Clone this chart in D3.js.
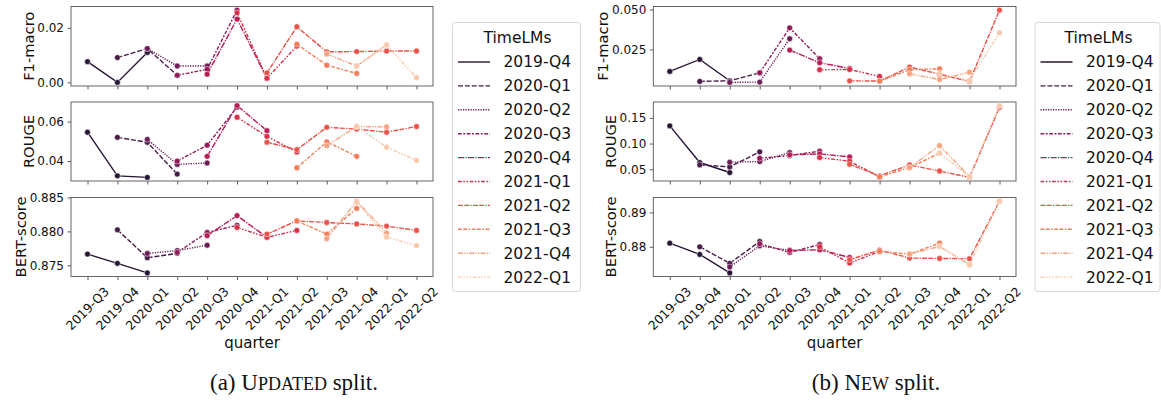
<!DOCTYPE html>
<html><head><meta charset="utf-8">
<script src="https://cdn.jsdelivr.net/npm/d3@7"></script>
<style>
body{margin:0;background:#fff;}
svg{display:block;font-family:"DejaVu Sans",sans-serif;}
</style></head>
<body><svg id="c" width="1161" height="401"></svg>
<script>
const quarters = ["2019-Q3","2019-Q4","2020-Q1","2020-Q2","2020-Q3","2020-Q4","2021-Q1","2021-Q2","2021-Q3","2021-Q4","2022-Q1","2022-Q2"];
const models = ["2019-Q4","2020-Q1","2020-Q2","2020-Q3","2020-Q4","2021-Q1","2021-Q2","2021-Q3","2021-Q4","2022-Q1"];
const colors = ["#271535","#461b46","#6b1e55","#911b58","#b61c55","#d82e46","#e95149","#f37c57","#f5a37f","#f7c8ab"];
const dashes = [[],[4,1.5],[1,1],[3,1.25,1.5,1.25],[5,1,1,1],[3,1.25,1.25,1.25,1.25,1.25],[4,1,4,1,1,1],[3,1.25,3,1.25,1.25,1.25],[4,1,1,1,1,1],[3,1.25,1.25,1.25,1.25,1.25,1.25,1.25]];
const metrics = ["F1-macro","ROUGE","BERT-score"];
const _ = null;

// UPDATED split (a)
const updatedF1 = [
 [0.0076,0.0,0.011,_,_,_,_,_,_,_,_,_],
 [_,0.0091,0.0124,0.0026,_,_,_,_,_,_,_,_],
 [_,_,0.0124,0.006,0.006,_,_,_,_,_,_,_],
 [_,_,_,0.0026,0.0048,0.0265,_,_,_,_,_,_],
 [_,_,_,_,0.003,0.0232,0.0015,_,_,_,_,_],
 [_,_,_,_,_,0.0255,0.0015,0.0133,_,_,_,_],
 [_,_,_,_,_,_,0.0035,0.0204,0.0112,0.0113,0.0115,0.0115],
 [_,_,_,_,_,_,_,0.014,0.0063,0.0033,_,_],
 [_,_,_,_,_,_,_,_,0.0104,0.006,0.0137,_],
 [_,_,_,_,_,_,_,_,_,0.006,0.0137,0.0017]];
const updatedROUGE = [
 [0.0546,0.0325,0.0317,_,_,_,_,_,_,_,_,_],
 [_,0.052,0.0495,0.0334,_,_,_,_,_,_,_,_],
 [_,_,0.051,0.0383,0.039,_,_,_,_,_,_,_],
 [_,_,_,0.040,0.048,0.0673,_,_,_,_,_,_],
 [_,_,_,_,0.0424,0.0681,0.0554,_,_,_,_,_],
 [_,_,_,_,_,0.0622,0.0525,0.0446,_,_,_,_],
 [_,_,_,_,_,_,0.0495,0.0458,0.0571,0.0562,0.0546,0.0575],
 [_,_,_,_,_,_,_,0.0366,0.0497,0.0424,_,_],
 [_,_,_,_,_,_,_,_,0.0478,0.0575,0.0573,_],
 [_,_,_,_,_,_,_,_,_,0.0575,0.047,0.0403]];
const updatedBERT = [
 [0.87665,0.87529,0.87388,_,_,_,_,_,_,_,_,_],
 [_,0.88024,0.87612,0.87675,_,_,_,_,_,_,_,_],
 [_,_,0.87675,0.87718,0.87796,_,_,_,_,_,_,_],
 [_,_,_,0.8769,0.87985,0.8809,_,_,_,_,_,_],
 [_,_,_,_,0.87937,0.88233,0.87913,_,_,_,_,_],
 [_,_,_,_,_,0.88058,0.87913,0.88015,_,_,_,_],
 [_,_,_,_,_,_,0.87961,0.88155,0.88131,0.8811,0.88078,0.88015],
 [_,_,_,_,_,_,_,0.88155,0.87961,0.8834,_,_],
 [_,_,_,_,_,_,_,_,0.87893,0.88447,0.87976,_],
 [_,_,_,_,_,_,_,_,_,0.8843,0.87917,0.87791]];
// NEW split (b)
const newF1 = [
 [0.01125,0.01875,0.0054,_,_,_,_,_,_,_,_,_],
 [_,0.005,0.0054,0.0104,_,_,_,_,_,_,_,_],
 [_,_,0.0044,0.0046,0.0317,_,_,_,_,_,_,_],
 [_,_,_,0.0104,0.0385,0.0192,_,_,_,_,_,_],
 [_,_,_,_,0.0246,0.0167,0.0131,_,_,_,_,_],
 [_,_,_,_,_,0.0123,0.0125,0.0081,_,_,_,_],
 [_,_,_,_,_,_,0.0054,0.0052,0.014,0.0095,0.005,0.0496],
 [_,_,_,_,_,_,_,0.0052,0.0123,0.0129,_,_],
 [_,_,_,_,_,_,_,_,0.0098,0.0062,0.0108,_],
 [_,_,_,_,_,_,_,_,_,0.0102,0.0055,0.0354]];
const newROUGE = [
 [0.1344,0.063,0.0435,_,_,_,_,_,_,_,_,_],
 [_,0.0584,0.0545,0.0838,_,_,_,_,_,_,_,_],
 [_,_,0.0636,0.065,0.0825,_,_,_,_,_,_,_],
 [_,_,_,0.0714,0.0766,0.0851,_,_,_,_,_,_],
 [_,_,_,_,0.078,0.0799,0.074,_,_,_,_,_],
 [_,_,_,_,_,0.0727,0.0656,0.035,_,_,_,_],
 [_,_,_,_,_,_,0.0597,0.037,0.0584,0.0465,0.034,0.1708],
 [_,_,_,_,_,_,_,0.035,0.0532,0.0812,_,_],
 [_,_,_,_,_,_,_,_,0.0532,0.0961,0.0357,_],
 [_,_,_,_,_,_,_,_,_,0.0812,0.0357,0.174]];
const newBERT = [
 [0.88106,0.87779,0.8724,_,_,_,_,_,_,_,_,_],
 [_,0.880,0.87519,0.88154,_,_,_,_,_,_,_,_],
 [_,_,0.87413,0.8803,0.87894,_,_,_,_,_,_,_],
 [_,_,_,0.88087,0.87837,0.88067,_,_,_,_,_,_],
 [_,_,_,_,0.87894,0.87913,0.87692,_,_,_,_,_],
 [_,_,_,_,_,0.880,0.87529,0.87865,_,_,_,_],
 [_,_,_,_,_,_,0.87625,0.87904,0.87673,0.8766,0.87654,0.89327],
 [_,_,_,_,_,_,_,0.87865,0.87788,0.88106,_,_],
 [_,_,_,_,_,_,_,_,0.87788,0.8801,0.87481,_],
 [_,_,_,_,_,_,_,_,_,0.8801,0.87481,0.8933]];

const updatedTicks = [[0.00,0.02],[0.04,0.06],[0.875,0.880,0.885]];
const newTicks = [[0.025,0.050],[0.05,0.10,0.15],[0.88,0.89]];
const updatedTickFmt = [".2f",".2f",".3f"];
const newTickFmt = [".3f",".2f",".2f"];

const panels = [
 {x0:71, x1:433, data:[updatedF1,updatedROUGE,updatedBERT], ticks:updatedTicks, fmt:updatedTickFmt,
  legendX:452.5, legendW:128, caption:["(a) ","U","PDATED"," split."], capX:294},
 {x0:653.3, x1:1016, data:[newF1,newROUGE,newBERT], ticks:newTicks, fmt:newTickFmt,
  legendX:1035, legendW:125, caption:["(b) ","N","EW"," split."], capX:876}
];
const rows = [[6.5,86],[102,181],[197.5,276.5]];
const LW = 1.4, DS = 1.25;

const svg = d3.select("#c");
panels.forEach(p => {
  const g = svg.append("g");
  const x = d3.scalePoint().domain(quarters).range([p.x0+16.5, p.x1-16.5]);
  rows.forEach((r, mi) => {
    const data = p.data[mi];
    const all = data.flat().filter(v => v !== null);
    const lo = d3.min(all), hi = d3.max(all), pad = (hi-lo)*0.05;
    const y = d3.scaleLinear().domain([lo-pad, hi+pad]).range([r[1], r[0]]);
    const ax = g.append("g");
    const ya = ax.append("g").attr("transform", `translate(${p.x0},0)`)
      .call(d3.axisLeft(y).tickValues(p.ticks[mi]).tickFormat(d3.format(p.fmt[mi])).tickSize(3.5).tickPadding(3.5));
    ya.select(".domain").remove();
    ya.selectAll("line").attr("stroke","#333").attr("stroke-width",0.8);
    ya.selectAll("text").attr("font-size",12).attr("fill","#111").attr("font-family","DejaVu Sans");
    let minLeft = p.x0;
    ya.selectAll("text").each(function(){ const b=this.getBBox(); minLeft=Math.min(minLeft, p.x0 + b.x); });
    const xa = ax.append("g").attr("transform", `translate(0,${r[1]})`)
      .call(d3.axisBottom(x).tickSize(3.5).tickFormat(""));
    xa.select(".domain").remove();
    xa.selectAll("line").attr("stroke","#333").attr("stroke-width",0.8);
    if (mi === 2) {
      g.append("g").selectAll("text").data(quarters).join("text")
        .attr("transform", d => `translate(${x(d)},308.5) rotate(-45)`)
        .attr("text-anchor","middle").attr("dy","0.35em")
        .attr("font-size",12.5).attr("fill","#111").text(d => d);
      g.append("text").attr("x",(p.x0+p.x1)/2).attr("y",348).attr("text-anchor","middle")
        .attr("font-size",15).attr("fill","#111").text("quarter");
    }
    g.append("text").attr("transform", `translate(${minLeft-3.5},${(r[0]+r[1])/2}) rotate(-90)`)
      .attr("text-anchor","middle").attr("font-size",14.7).attr("fill","#111").text(metrics[mi]);
    g.append("rect").attr("x",p.x0).attr("y",r[0]).attr("width",p.x1-p.x0).attr("height",r[1]-r[0])
      .attr("fill","none").attr("stroke","#555").attr("stroke-width",0.9);
    const line = d3.line().defined(d => d.v !== null).x(d => x(d.q)).y(d => y(d.v));
    data.forEach((vals, si) => {
      const pts = vals.map((v,i) => ({q:quarters[i], v}));
      const sg = g.append("g");
      sg.append("path").attr("d", line(pts)).attr("fill","none").attr("stroke",colors[si])
        .attr("stroke-width",LW).attr("stroke-dasharray", dashes[si].length ? dashes[si].map(d=>d*DS).join(",") : null);
      sg.selectAll("circle").data(pts.filter(d => d.v !== null)).join("circle")
        .attr("cx", d => x(d.q)).attr("cy", d => y(d.v)).attr("r",2.9)
        .attr("fill",colors[si]).attr("stroke","#fff").attr("stroke-width",0.5);
    });
  });
  const lg = g.append("g");
  lg.append("rect").attr("x",p.legendX).attr("y",22.5).attr("width",p.legendW).attr("height",269)
    .attr("rx",3).attr("fill","#fff").attr("stroke","#d6d6d6").attr("stroke-width",1);
  lg.append("text").attr("x",p.legendX+p.legendW/2+1).attr("y",38).attr("dy","0.35em")
    .attr("text-anchor","middle").attr("font-size",15.5).attr("fill","#111").text("TimeLMs");
  models.forEach((m, i) => {
    const cy = 62 + i*23.9;
    lg.append("line").attr("x1",p.legendX+5.5).attr("x2",p.legendX+37.5).attr("y1",cy).attr("y2",cy)
      .attr("stroke",colors[i]).attr("stroke-width",LW)
      .attr("stroke-dasharray", dashes[i].length ? dashes[i].map(d=>d*DS).join(",") : null);
    lg.append("text").attr("x",p.legendX+51).attr("y",cy).attr("dy","0.35em")
      .attr("font-size",15.5).attr("fill","#111").text(m);
  });
  const cap = svg.append("text").attr("x",p.capX).attr("y",390).attr("text-anchor","middle")
    .attr("font-family","'Liberation Serif','Times New Roman',serif").attr("font-size",23).attr("fill","#111");
  cap.append("tspan").text(p.caption[0]);
  cap.append("tspan").text(p.caption[1]);
  cap.append("tspan").attr("font-size",18).text(p.caption[2]);
  cap.append("tspan").text(p.caption[3]);
});
</script></body></html>
